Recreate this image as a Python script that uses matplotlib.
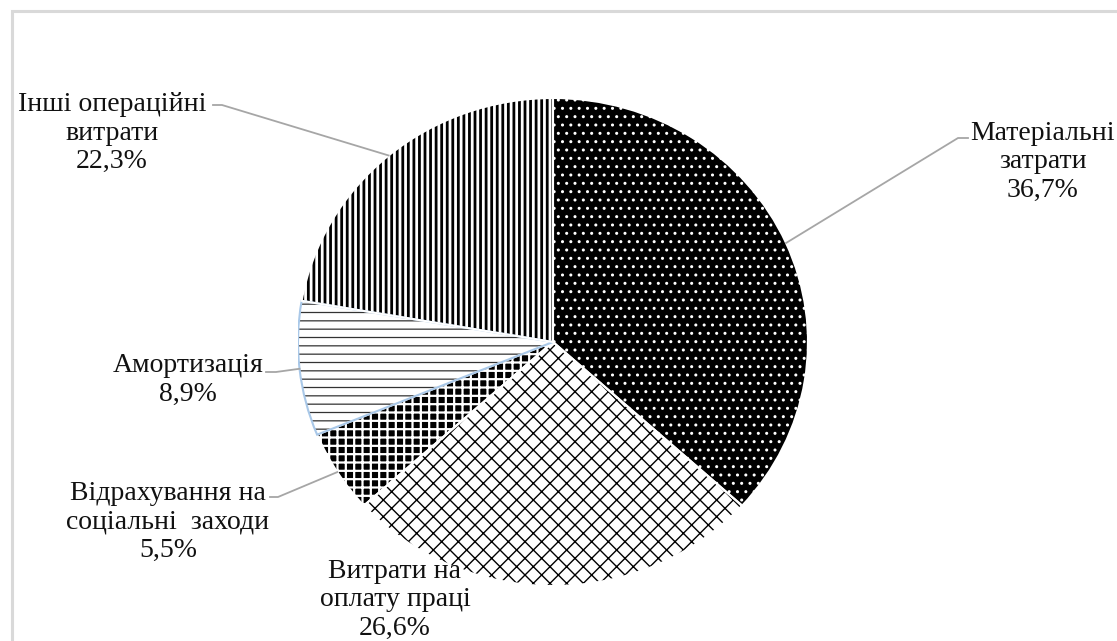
import matplotlib.pyplot as plt
from matplotlib.patches import Wedge, Rectangle
from matplotlib.lines import Line2D
import numpy as np

plt.rcParams["font.family"] = ["Liberation Serif", "DejaVu Serif"]

names = ["Матеріальні\nзатрати", "Витрати на\nоплату праці", "Відрахування на\nсоціальні  заходи",
         "Амортизація", "Інші операційні\nвитрати"]
shares = [36.7, 26.6, 5.5, 8.9, 22.3]

# fill, hatch colour, hatch pattern, hatch width for each slice
faces = ["black", "white", "black", "white", "white"]
hatch_colors = ["white", "black", "white", "#333333", "black"]
hatches = ["..", "xx", "++", "--", "|||"]
hatch_widths = [1.0, 1.0, 1.6, 0.9, 2.0]

W, H = 1117, 641
cx, cy, rx, ry = 553, 342, 255, 244

# label block centres and where the leader leaves the text (pixels from top-left)
label_pos = [(1043, 162), (395, 600), (168, 522), (188, 380), (112, 133)]
leader_start = [(968, 138, -10), None, (270, 497, 8), (266, 372, 10), (213, 105, 9)]


def fig_xy(px, py):
    return px / W, 1 - py / H


fig = plt.figure(figsize=(W / 100, H / 100), dpi=100)
ax = fig.add_axes([(cx - rx) / W, 1 - (cy + ry) / H, 2 * rx / W, 2 * ry / H])

wedges, _ = ax.pie(shares, startangle=90, counterclock=False, radius=1,
                   wedgeprops=dict(linewidth=0))
ax.set_aspect("auto")
ax.set_xlim(-1, 1)
ax.set_ylim(-1, 1)
ax.axis("off")

for w, fc, hc, h, hw in zip(wedges, faces, hatch_colors, hatches, hatch_widths):
    w.set_facecolor(fc)
    w.set_edgecolor(hc)
    w.set_hatch(h)
    if hasattr(w, "set_hatch_linewidth"):
        w.set_hatch_linewidth(hw)
    edge = "#a9c8e8" if w is wedges[3] else "white"
    ax.add_patch(Wedge((0, 0), 1, w.theta1, w.theta2, fill=False,
                       edgecolor=edge, linewidth=1.5, zorder=3))

for i, w in enumerate(wedges):
    text = names[i] + "\n" + f"{shares[i]:.1f}%".replace(".", ",")
    fig.text(*fig_xy(*label_pos[i]), text, ha="center", va="center",
             fontsize=20, linespacing=1.2, multialignment="center", color="#111111")
    if leader_start[i] is None:
        continue
    mid = np.deg2rad((w.theta1 + w.theta2) / 2)
    ex, ey = ax.transData.transform((np.cos(mid), np.sin(mid)))
    ex, ey = ex / W, ey / H
    sx, sy, step = leader_start[i]
    x0, y0 = fig_xy(sx, sy)
    x1, _ = fig_xy(sx + step, sy)
    fig.add_artist(Line2D([x0, x1, ex], [y0, y0, ey], transform=fig.transFigure,
                          color="#a6a6a6", linewidth=1.3))

fig.add_artist(Rectangle(fig_xy(12, 660), (1140 - 12) / W, (660 - 11) / H,
                         transform=fig.transFigure, fill=False,
                         edgecolor="#d9d9d9", linewidth=2.2))

fig.savefig("out.png", dpi=100)
